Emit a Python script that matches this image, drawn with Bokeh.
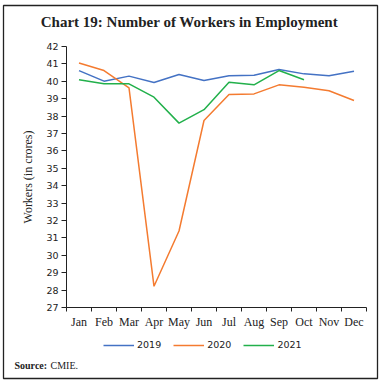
from bokeh.plotting import figure
from bokeh.models import Legend, LegendItem, Label, FixedTicker, Range1d, LinearAxis
from bokeh.embed import file_html
from bokeh.resources import INLINE

months = ["Jan", "Feb", "Mar", "Apr", "May", "Jun", "Jul", "Aug", "Sep", "Oct", "Nov", "Dec"]
y2019 = [40.62, 40.01, 40.30, 39.93, 40.39, 40.05, 40.32, 40.35, 40.68, 40.43, 40.32, 40.58]
y2020 = [41.06, 40.62, 39.63, 28.22, 31.40, 37.75, 39.24, 39.28, 39.80, 39.66, 39.46, 38.90]
y2021 = [40.09, 39.86, 39.86, 39.09, 37.60, 38.37, 39.95, 39.80, 40.62, 40.09]
y_ticks = list(range(27, 43))
y_min, y_max = 27, 42

series = [("2019", y2019, "#4472C4"), ("2020", y2020, "#F47B30"), ("2021", y2021, "#22B04B")]

W, H = 381, 383
# the frame fills the bordered box; axes are pinned inside it
p = figure(width=W, height=H, output_backend="svg", toolbar_location=None,
           x_range=Range1d(-2.52, 12.44), y_range=Range1d(22.92, 44.36),
           x_axis_type=None, y_axis_type=None,
           min_border_left=3, min_border_right=4, min_border_top=5, min_border_bottom=5,
           background_fill_color="white", border_fill_color="white",
           outline_line_color="#222", outline_line_width=1.3)
p.grid.visible = False

xs_all = [i + 0.5 for i in range(len(months))]
items = []
for name, ys, col in series:
    r = p.line(xs_all[:len(ys)], ys, line_color=col, line_width=1.5)
    items.append(LegendItem(label=name, renderers=[r]))

# x axis
xa = LinearAxis(fixed_location=y_min, bounds=(0, len(months)))
xa.ticker = FixedTicker(ticks=xs_all, minor_ticks=list(range(len(months) + 1)))
xa.major_label_overrides = {x: m for x, m in zip(xs_all, months)}
xa.major_tick_in = 0
xa.major_tick_out = 0
xa.minor_tick_in = 0
xa.minor_tick_out = 4
xa.minor_tick_line_color = "#222"
xa.axis_line_color = "#222"
xa.major_label_text_font = "Liberation Serif"
xa.major_label_text_font_size = "12px"
xa.major_label_text_color = "#222"
xa.major_label_standoff = 3
p.add_layout(xa, "below")

ya = LinearAxis(fixed_location=0, bounds=(y_min, y_max))
ya.ticker = FixedTicker(ticks=y_ticks)
ya.minor_tick_line_color = None
ya.major_tick_in = 0
ya.major_tick_out = 5
ya.major_tick_line_color = "#222"
ya.axis_line_color = "#222"
ya.major_label_text_font = "DejaVu Sans"
ya.major_label_text_font_size = "9.5px"
ya.major_label_text_color = "#222"
ya.major_label_standoff = 3
ya.axis_label = "Workers (in crores)"
ya.axis_label_text_font = "Liberation Serif"
ya.axis_label_text_font_style = "normal"
ya.axis_label_text_font_size = "12px"
ya.axis_label_text_color = "#222"
ya.axis_label_standoff = 8
p.add_layout(ya, "left")

legend = Legend(items=items, orientation="horizontal", location=(100, 28),
                glyph_width=31, glyph_height=10, label_text_font="DejaVu Sans",
                label_text_font_size="9.5px", label_text_color="#222",
                spacing=12, label_standoff=3, padding=0, margin=0,
                border_line_color=None, background_fill_alpha=0)
p.add_layout(legend, "center")

title = Label(x=186, y=357, x_units="screen", y_units="screen",
              text="Chart 19: Number of Workers in Employment",
              text_font="Liberation Serif", text_font_style="bold",
              text_font_size="15px", text_align="center", text_baseline="middle",
              text_color="#222")
p.add_layout(title)
src_b = Label(x=11, y=13, x_units="screen", y_units="screen", text="Source:",
              text_font="Liberation Serif", text_font_style="bold",
              text_font_size="10px", text_color="#222", text_baseline="middle")
src_n = Label(x=47, y=13, x_units="screen", y_units="screen", text="CMIE.",
              text_font="Liberation Serif", text_font_size="10px", text_color="#222",
              text_baseline="middle")
p.add_layout(src_b)
p.add_layout(src_n)

open("out.html", "w").write(file_html(p, INLINE))
